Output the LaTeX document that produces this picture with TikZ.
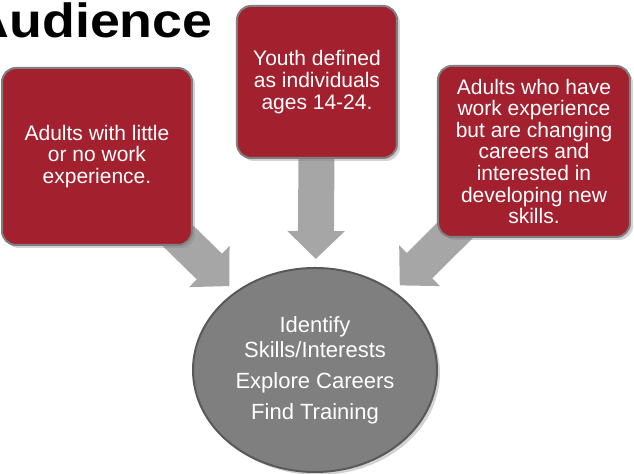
\documentclass[tikz,border=0pt]{standalone}
\usepackage{fontspec}
\setmainfont{Liberation Sans}
\newfontfamily\titlefont[FakeStretch=1.12]{Liberation Sans}
\usepackage{tikz}
\usetikzlibrary{shapes.geometric,arrows.meta,shadows,backgrounds}
\definecolor{boxred}{HTML}{A3212F}
\definecolor{boxedge}{HTML}{7F7F7F}
\definecolor{flowgray}{HTML}{A6A6A6}
\definecolor{hubfill}{HTML}{7F7F7F}
\definecolor{hubedge}{HTML}{595959}

\begin{document}
\begin{tikzpicture}[x=0.5pt,y=-0.5pt,
	group/.style={rectangle,rounded corners=7pt,fill=boxred,draw=boxedge,line width=1pt,
		text=white,align=center,font=\fontsize{10.5}{10.8}\selectfont,inner sep=0pt,
		drop shadow={shadow xshift=1.5pt,shadow yshift=-1.5pt,opacity=0.35}},
	flow/.style={draw=flowgray,line width=18pt,-{Triangle[length=14pt,width=28pt]},shorten >=4pt}]
							\useasboundingbox (0,0) rectangle (634,474);

							\node[anchor=base east,inner sep=0pt,font=\titlefont\bfseries\fontsize{24}{24}\selectfont] (title) at (213,38) {Audience};

							\node[group,minimum width=95pt,minimum height=88.5pt] (g1) at (97,156.5)
								{Adults with little\\or no work\\experience.};
							\node[group,minimum width=80pt,minimum height=76pt] (g2) at (317,82)
								{Youth defined\\as individuals\\ages 14-24.};
							\node[group,minimum width=96pt,minimum height=85.5pt] (g3) at (534,151.5)
								{Adults who have\\work experience\\but are changing\\careers and\\interested in\\developing new\\skills.};

							\node[ellipse,fill=hubfill,draw=hubedge,line width=1pt,minimum width=122pt,minimum height=102pt,
								text=white,align=center,font=\fontsize{11}{12.5}\selectfont,
								drop shadow={shadow xshift=1.5pt,shadow yshift=-1.5pt,opacity=0.35}] (hub) at (315,370)
								{Identify\\Skills/Interests\\[3pt]Explore Careers\\[3pt]Find Training};

							\begin{scope}[on background layer]
								\foreach \from in {g1,g2,g3}
									\draw[flow] (\from.center) -- (hub);
							\end{scope}

						\end{tikzpicture}
\end{document}
